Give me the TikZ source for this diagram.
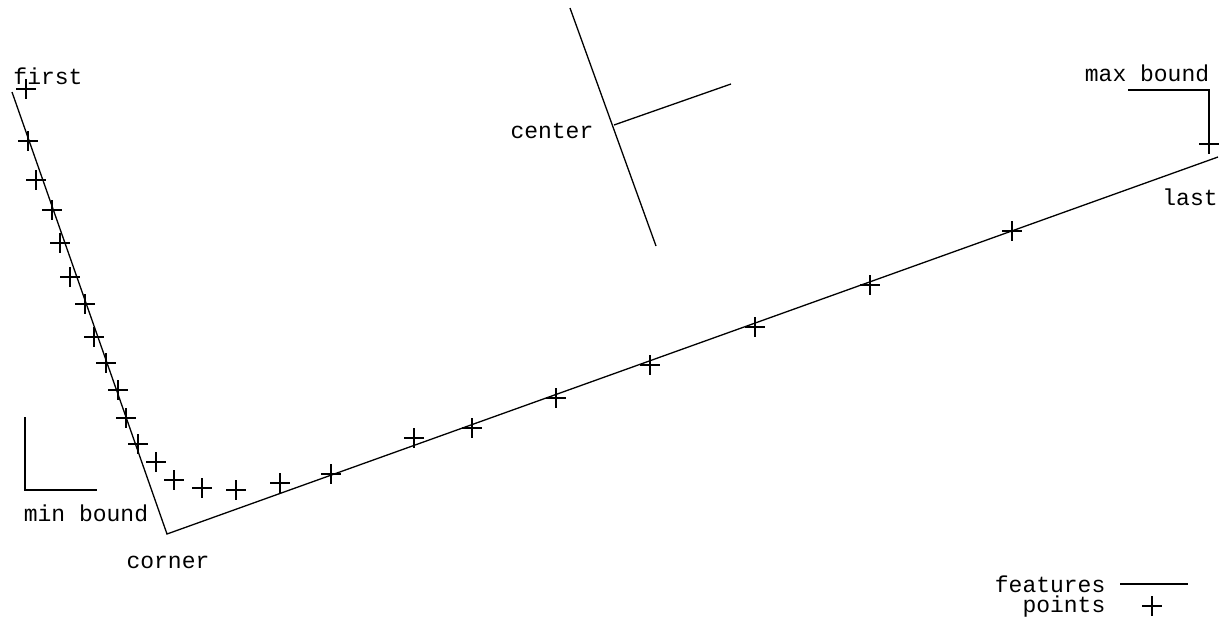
\documentclass[tikz,border=0pt]{standalone}
\usepackage{fontspec}
\setmonofont{Liberation Mono}
\begin{document}
\begin{tikzpicture}[x=1pt,y=-1pt,line width=1.3pt,
  lbl/.style={font=\ttfamily\fontsize{23}{23}\selectfont,inner sep=0pt},
  feat/.style={draw=black},
  plusmark/.pic={\draw (-10,0) -- (10,0) (0,-10) -- (0,10);}]
\useasboundingbox[fill=white] (0,0) rectangle (1221,621);
% features
\coordinate (first) at (12,92);
\coordinate (corner) at (167,534);
\coordinate (last) at (1218,157);
\draw[feat] (first) -- (corner) -- (last);
\coordinate (ctop) at (570,8);
\coordinate (cbot) at (656,246);
\coordinate (cen) at (614,125);
\coordinate (cnorm) at (731,84);
\draw[feat] (ctop) -- (cbot);
\draw[feat] (cen) -- (cnorm);
% bounds
\coordinate (minA) at (25,417);
\coordinate (minB) at (25,490);
\coordinate (minC) at (97,490);
\draw (minA) -- (minB) -- (minC);
\coordinate (maxA) at (1128,90);
\coordinate (maxB) at (1209,90);
\coordinate (maxC) at (1209,150);
\draw (maxA) -- (maxB) -- (maxC);
% points
\foreach \p in {(26,89),(28,141),(36,180),(52,210),(60,243),(70,277),(85,304),(94,337),(106,363),(118,390),(126,418),(138,444),(156,462),(174,480),(202,488),(236,490),(280,483),(331,474),(414,438),(472,428),(556,398),(650,365),(755,327),(870,285),(1012,231),(1209,144)}
  \pic at \p {plusmark};
% labels
\node[lbl] (tfirst) at (48,76) {first};
\node[lbl,anchor=east] (tcenter) at (594,131) {center};
\node[lbl] (tmax) at (1147,73) {max bound};
\node[lbl] (tlast) at (1190,197) {last};
\node[lbl] (tmin) at (86,513) {min bound};
\node[lbl] (tcorner) at (168,562) {corner};
\node[lbl,anchor=east] (tfeat) at (1106,584) {features};
\node[lbl,anchor=east] (tpts) at (1106,607) {points};
\coordinate (lf1) at (1120,584);
\coordinate (lf2) at (1188,584);
\draw[feat] (lf1) -- (lf2);
\pic at (1152,606) {plusmark};
\end{tikzpicture}
\end{document}
